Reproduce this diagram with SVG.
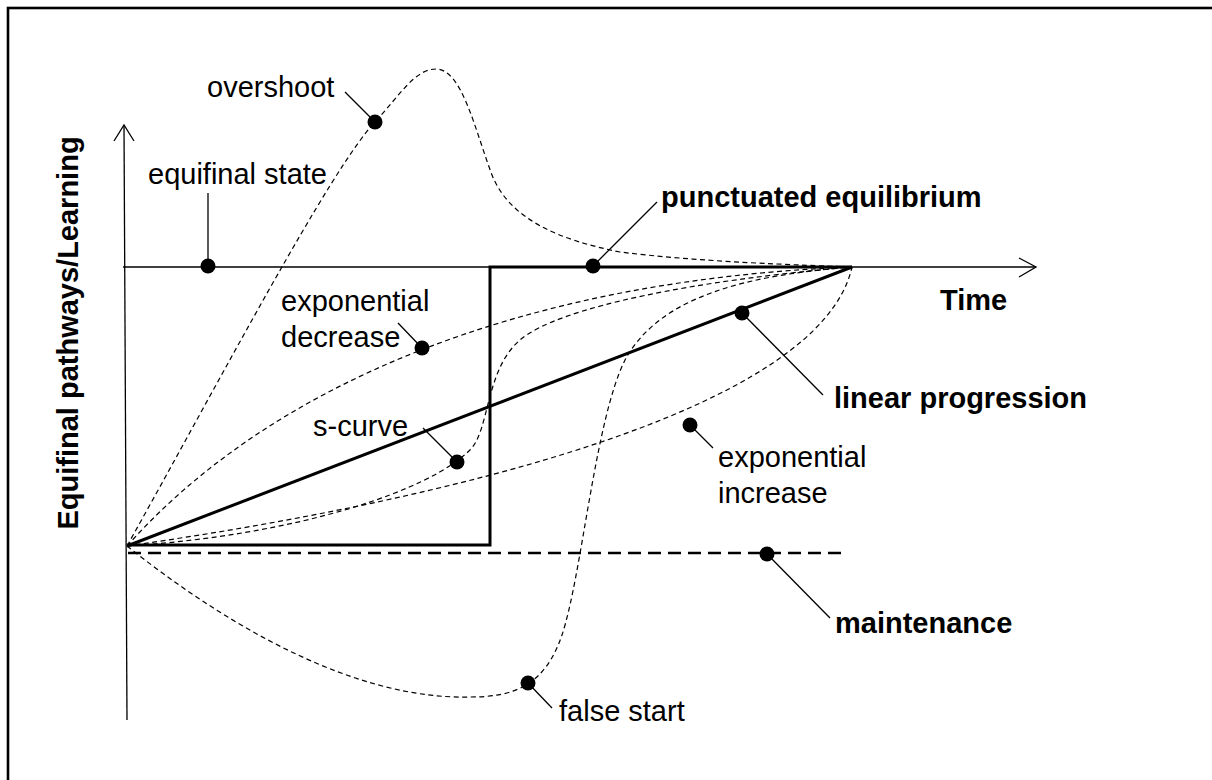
<svg xmlns="http://www.w3.org/2000/svg" width="1212" height="780" viewBox="0 0 1212 780">
<style>
text{font-family:"Liberation Sans",Arial,sans-serif;font-size:29px;fill:#000}
.b{font-weight:bold}
.ax{stroke:#000;stroke-width:1.3;fill:none}
.thin{stroke:#000;stroke-width:1.2;fill:none;stroke-dasharray:5 3.5}
.thick{stroke:#000;stroke-width:3;fill:none}
.maint{stroke:#000;stroke-width:2.5;fill:none;stroke-dasharray:13 7}
.ld{stroke:#000;stroke-width:1.3;fill:none}
.dot{fill:#000}
</style>
<rect x="8" y="8" width="1230" height="800" fill="#fff" stroke="#000" stroke-width="2.6"/>
<g id="connectors">
  <line class="ax" x1="124" y1="125" x2="127" y2="720"/>
  <polyline class="ax" points="114,141 124,125 134,141"/>
  <line class="ax" x1="123" y1="267" x2="1036" y2="267"/>
  <polyline class="ax" points="1019,258 1036,267 1019,277"/>
  <path class="thin" d="M127,546 C220,380 330,170 375,122 C400,95 415,69 436,69 C462,69 475,130 492,175 C510,220 560,240 620,252 C700,262 800,265 852,267"/>
  <path class="thin" d="M127,546 C270,385 520,280 852,267"/>
  <path class="thin" d="M127,546 C450,500 820,410 852,267"/>
  <path class="thin" d="M127,546 C300,535 430,490 470,450 C490,430 485,370 520,340 C560,306 700,280 852,267"/>
  <path class="thin" d="M127,546 C220,620 350,700 470,697 C515,697 545,685 562,635 C582,575 595,420 625,360 C660,295 750,275 852,267"/>
  <polyline class="thick" points="127,545 490,545 490,267 852,267"/>
  <line class="thick" x1="127" y1="546" x2="852" y2="267"/>
  <line class="maint" x1="128" y1="553" x2="848" y2="553"/>
</g>
<g id="y-axis-label">
  <text class="b" text-anchor="middle" transform="translate(78,333) rotate(-90)">Equifinal pathways/Learning</text>
</g>
<g id="time-label">
  <text class="b" x="940" y="310">Time</text>
</g>
<g id="overshoot">
  <line class="ld" x1="345" y1="92" x2="375" y2="122"/>
  <circle class="dot" cx="375" cy="122" r="7.5"/>
  <text x="207" y="97">overshoot</text>
</g>
<g id="equifinal-state">
  <line class="ld" x1="208" y1="193" x2="208" y2="266"/>
  <circle class="dot" cx="208" cy="266" r="7.5"/>
  <text x="148" y="184">equifinal state</text>
</g>
<g id="punctuated-equilibrium">
  <line class="ld" x1="657" y1="202" x2="593" y2="266"/>
  <circle class="dot" cx="593" cy="266" r="7.5"/>
  <text class="b" x="661" y="207">punctuated equilibrium</text>
</g>
<g id="exponential-decrease">
  <line class="ld" x1="398" y1="323" x2="422" y2="348"/>
  <circle class="dot" cx="422" cy="348" r="7.5"/>
  <text x="281" y="311">exponential</text>
  <text x="281" y="347">decrease</text>
</g>
<g id="s-curve">
  <line class="ld" x1="423" y1="428" x2="457" y2="462"/>
  <circle class="dot" cx="457" cy="462" r="7.5"/>
  <text x="313" y="436">s-curve</text>
</g>
<g id="linear-progression">
  <line class="ld" x1="742" y1="313" x2="823" y2="395"/>
  <circle class="dot" cx="742" cy="313" r="7.5"/>
  <text class="b" x="834" y="408">linear progression</text>
</g>
<g id="exponential-increase">
  <line class="ld" x1="690" y1="425" x2="713" y2="448"/>
  <circle class="dot" cx="690" cy="425" r="7.5"/>
  <text x="718" y="467">exponential</text>
  <text x="718" y="503">increase</text>
</g>
<g id="maintenance">
  <line class="ld" x1="767" y1="554" x2="830" y2="618"/>
  <circle class="dot" cx="767" cy="554" r="7.5"/>
  <text class="b" x="835" y="633">maintenance</text>
</g>
<g id="false-start">
  <line class="ld" x1="528" y1="683" x2="552" y2="708"/>
  <circle class="dot" cx="528" cy="683" r="7.5"/>
  <text x="559" y="721">false start</text>
</g>
</svg>
